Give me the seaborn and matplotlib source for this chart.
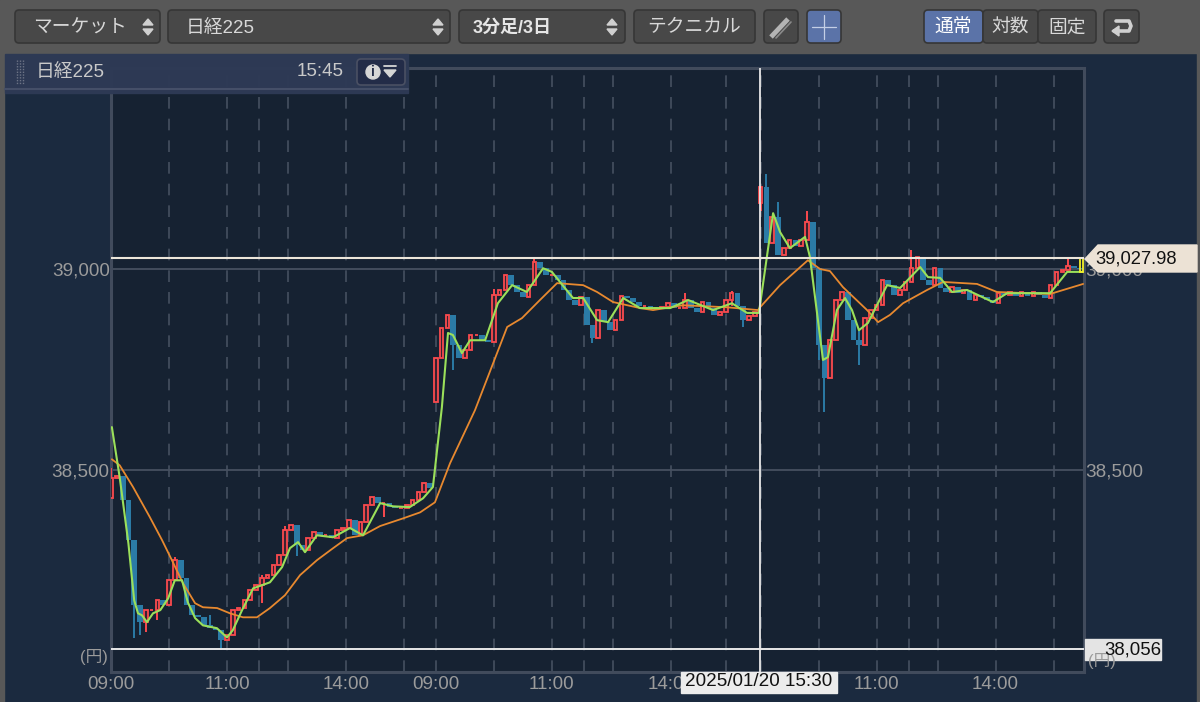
import numpy as np
import pandas as pd
import matplotlib
matplotlib.use("Agg")
import matplotlib.pyplot as plt
from matplotlib.patches import FancyBboxPatch, Rectangle, Polygon, Circle
import seaborn as sns

# 6 minute candles, 56 per session
closes_day1 = [38480, 38485, 38425, 38326, 38164, 38122, 38152, 38152, 38177, 38164, 38226, 38276, 38231, 38164,
               38139, 38134, 38114, 38107, 38102, 38077, 38090, 38152, 38157, 38177, 38201, 38214, 38231, 38239,
               38264, 38289, 38351, 38363, 38313, 38301, 38331, 38346, 38338, 38338, 38331, 38351, 38356, 38376,
               38338, 38371, 38413, 38433, 38418, 38418, 38408, 38405, 38405, 38413, 38425, 38445, 38468, 38455]
closes_day2 = [38779, 38853, 38886, 38811, 38779, 38798, 38836, 38836, 38823, 38818, 38935, 38948, 38985, 38960,
               38943, 38930, 38960, 39017, 39002, 38985, 38985, 38973, 38948, 38923, 38910, 38930, 38861, 38828,
               38898, 38868, 38848, 38873, 38933, 38928, 38918, 38908, 38908, 38903, 38903, 38905, 38915, 38903,
               38903, 38923, 38903, 38893, 38918, 38903, 38886, 38893, 38923, 38940, 38908, 38873, 38883, 38893]
closes_day3 = [39204, 39065, 39129, 39035, 39052, 39072, 39057, 39072, 39117, 39002, 38811, 38729, 38823, 38923,
               38943, 38873, 38823, 38811, 38878, 38898, 38910, 38973, 38960, 38935, 38948, 38968, 39002, 39030,
               38973, 38960, 39002, 38953, 38943, 38955, 38940, 38948, 38923, 38935, 38930, 38923, 38915, 38940,
               38935, 38943, 38933, 38943, 38933, 38943, 38935, 38928, 38960, 38993, 38998, 39007, 39002, 39000]
day_opens = [38430, 38669, 39164]

wick_pos = [0, 8, 10, 12, 16, 22, 34, 38, 52, 60, 64, 94, 118, 132, 146, 166, 198, 214, 218, 224, 226, 230, 240, 244, 246,
            258, 276, 330]
wick_high = [38505, 38164, 38122, 38152, 38177, 38284, 38139, 38102, 38239, 38361, 38363, 38418, 38811, 38950, 39030,
             38861, 38940, 38945, 38883, 39204, 39236, 39167, 39145, 39002, 38811, 38845, 39047, 39030]
wick_low = [38430, 38082, 38090, 38097, 38127, 38226, 38107, 38057, 38170, 38289, 38287, 38383, 38749, 38818, 38960,
            38815, 38903, 38908, 38856, 39144, 39065, 39035, 39072, 38774, 38644, 38761, 38968, 38998]

green_pos = [0.3, 3, 6, 8, 9.3, 10.7, 12.4, 14.5, 17, 19.7, 22, 24.5, 26.5, 29, 31.7, 36.5, 40, 42, 45.2, 49, 54.8, 59,
             61.7, 64.5, 66.9, 71, 76.6, 82.4, 86.9, 92.8, 97.2, 103, 107.6, 111, 114.1, 116.2, 117.9, 121, 123.8, 129,
             133.4, 138.3, 143.4, 149, 152, 159.3, 162.8, 167.6, 171.4, 176.6, 182.4, 192.8, 199, 207.6, 214.1, 219.3,
             223.4, 228.3, 230.7, 234.1, 239.3, 241, 245.5, 247.2, 250.3, 253.1, 255.5, 257.9, 261, 267.6, 272.1, 279,
             281.7, 285.9, 290, 295.2, 304.1, 309, 323.8, 329.7, 335.2]
green_val = [38607, 38482, 38318, 38176, 38144, 38139, 38122, 38144, 38152, 38181, 38226, 38226, 38171, 38132, 38114,
             38107, 38084, 38102, 38152, 38206, 38221, 38259, 38306, 38321, 38296, 38338, 38333, 38356, 38338, 38418,
             38410, 38408, 38430, 38458, 38657, 38841, 38836, 38791, 38823, 38823, 38915, 38960, 38943, 39002, 38993,
             38928, 38928, 38873, 38868, 38928, 38903, 38903, 38923, 38898, 38915, 38891, 38891, 39139, 39092, 39052,
             39080, 39030, 38774, 38781, 38898, 38928, 38898, 38848, 38866, 38960, 38953, 39005, 38980, 38978, 38943,
             38948, 38918, 38940, 38940, 38993, 38993]

orange_pos = [0.3, 3, 7.6, 13.4, 17.6, 21, 24.8, 29, 31.7, 36.6, 41, 45.5, 50.3, 54.8, 60, 65.2, 71, 76.6, 81.4, 86.9,
              92.8, 100.7, 106.6, 111.7, 116.9, 125.5, 136.6, 141.7, 147.9, 153.8, 162.8, 167.6, 173.1, 182.4, 186.9,
              197.2, 212.4, 223.1, 223.8, 230.7, 240.3, 244.5, 247.9, 252.4, 260.7, 264.5, 268.6, 273.1, 281.4, 286.9,
              298.6, 305.5, 323.8, 335.2]
orange_val = [38527, 38512, 38458, 38383, 38326, 38276, 38219, 38169, 38159, 38157, 38144, 38134, 38134, 38157, 38189,
              38239, 38276, 38306, 38331, 38338, 38361, 38380, 38395, 38420, 38517, 38649, 38856, 38878, 38923, 38965,
              38960, 38943, 38918, 38903, 38898, 38910, 38905, 38898, 38905, 38960, 39022, 39000, 38995, 38955, 38898,
              38868, 38886, 38915, 38948, 38968, 38963, 38943, 38938, 38963]

grid_pos = [20, 40, 51, 61, 81, 101, 112, 132, 152, 163, 173, 193, 212, 224, 244, 264, 275, 285, 305, 325]
x_tick_pos = [0, 40, 81, 112, 152, 193, 224, 264, 305]
x_tick_labels = ["09:00", "11:00", "14:00", "09:00", "11:00", "14:00", "09:00", "11:00", "14:00"]
y_ticks = [38500, 39000]
y_tick_labels = ["38,500", "39,000"]
cursor_pos = 223.7
price_now = 39027.98
price_low = 38056
last_open = 38993

sns.set_theme(style="dark")
plt.rcParams['font.family'] = ['Liberation Sans', 'Noto Sans CJK JP', 'DejaVu Sans']

fig = plt.figure(figsize=(12, 7.02), dpi=100, facecolor="#1b2a3f")
ax = fig.add_axes([111 / 1200, 1 - 672 / 702, (1084 - 111) / 1200, (672 - 68) / 702], facecolor="#162232")

closes = np.array(closes_day1 + closes_day2 + closes_day3)
opens = np.r_[closes[0], closes[:-1]]
opens[[0, 56, 112]] = day_opens
df = pd.DataFrame({"pos": np.arange(len(closes)) * 2, "open": opens, "close": closes})
df["up"] = df["close"] >= df["open"]

red = "#fb4a4e"
blue = "#2b7ba6"
for _, row in df[~df["up"]].iterrows():
    ax.bar(row["pos"], row["open"] - row["close"], bottom=row["close"], width=2.0, color=blue, linewidth=0, zorder=3)
for _, row in df[df["up"]].iterrows():
    ax.bar(row["pos"], row["close"] - row["open"], bottom=row["open"], width=1.2, facecolor="#3a2230",
           edgecolor=red, linewidth=1.3, zorder=4)
wick_up = df.set_index("pos").loc[wick_pos, "up"].values
ax.vlines(wick_pos, wick_low, wick_high, colors=[red if u else blue for u in wick_up], linewidth=1.4, zorder=3)

sns.lineplot(x=orange_pos, y=orange_val, color="#e8892f", linewidth=1.3, sort=False, estimator=None, ax=ax, zorder=5)
sns.lineplot(x=green_pos, y=green_val, color="#9be05a", linewidth=1.5, sort=False, estimator=None, ax=ax, zorder=6)

ax.bar(334.6, price_now - last_open, bottom=last_open, width=1.0, facecolor="none", edgecolor="#f2ee2a",
       linewidth=1.3, zorder=7, clip_on=False)

ax.set_xlim(0, 335.5)
ax.set_ylim(37998, 39500)
ax.set_xlabel("")
ax.set_ylabel("")
ax.set_xticks(x_tick_pos)
ax.set_xticklabels(x_tick_labels)
ax.set_yticks(y_ticks)
ax.set_yticklabels(y_tick_labels)
ax.tick_params(axis="both", length=0, labelsize=13.6, labelcolor="#9b9b9b", pad=1, labelright=True)
ax.tick_params(axis="x", pad=3)
ax.grid(False)
for v in y_ticks:
    ax.axhline(v, color="#465060", linewidth=1.3, zorder=1)
for p in grid_pos:
    ax.axvline(p, color="#465060", linewidth=1.2, linestyle=(0, (7, 6)), zorder=1)
for s in ax.spines.values():
    s.set_visible(True)
    s.set_color("#414b5c")
    s.set_linewidth(2.2)

# crosshair and the high / low lines
ax.axvline(cursor_pos, color="#e8e8e8", linewidth=1.3, zorder=8)
ax.axhline(price_now, color="#ece6da", linewidth=1.5, zorder=8)
ax.axhline(price_low, color="#e8e8e8", linewidth=1.4, zorder=8)

# everything around the chart, drawn in pixel coords
ui = fig.add_axes([0, 0, 1, 1], zorder=5)
ui.set_xlim(0, 1200)
ui.set_ylim(702, 0)
ui.axis("off")
ui.patch.set_visible(False)


def button(x0, x1, color="#484848", y0=10, y1=43):
    ui.add_patch(FancyBboxPatch((x0, y0), x1 - x0, y1 - y0, boxstyle="round,pad=0,rounding_size=4",
                                facecolor=color, edgecolor="#363636", linewidth=1.2))


def updown(x, y=27):
    ui.add_patch(Polygon([(x - 5, y - 2), (x + 5, y - 2), (x, y - 8)], color="#d0d0d0"))
    ui.add_patch(Polygon([(x - 5, y + 2), (x + 5, y + 2), (x, y + 8)], color="#d0d0d0"))


ui.add_patch(Rectangle((0, 0), 1200, 53, color="#585858"))
ui.add_patch(Rectangle((0, 0), 4, 702, color="#585858"))
ui.add_patch(Rectangle((1197, 0), 3, 702, color="#585858"))

button(15, 160)
button(168, 450)
button(459, 625)
button(634, 755)
button(764, 798)
button(807, 841, color="#5b73a8")
button(924, 983, color="#5b73a8")
button(983, 1038)
button(1038, 1096)
button(1104, 1139)
updown(148)
updown(438)
updown(612)

ui.text(33, 28, "マーケット", color="#d8d8d8", fontsize=13.5, va="center")
ui.text(186, 28, "日経225", color="#d8d8d8", fontsize=13.5, va="center")
ui.text(473, 28, "3分足/3日", color="#e6e6e6", fontsize=13, va="center", fontweight="bold")
ui.text(694, 28, "テクニカル", color="#d8d8d8", fontsize=13.5, va="center", ha="center")
ui.text(953, 28, "通常", color="#ffffff", fontsize=13.5, va="center", ha="center")
ui.text(1010, 28, "対数", color="#d8d8d8", fontsize=13.5, va="center", ha="center")
ui.text(1067, 28, "固定", color="#d8d8d8", fontsize=13.5, va="center", ha="center")

# pencil, plus and return icons
ui.plot([771, 788], [37, 19], color="#b4b4b4", linewidth=3.5, solid_capstyle="butt")
ui.plot([776, 791], [38, 22], color="#8a8a8a", linewidth=1.2)
ui.plot([824, 824], [15, 39], color="#c4cfe6", linewidth=0.9)
ui.plot([812, 836], [27, 27], color="#c4cfe6", linewidth=0.9)
ui.plot([1116, 1129, 1131, 1129, 1114], [21, 21, 26, 31, 31], color="#d0d0d0", linewidth=2.6)
ui.add_patch(Polygon([(1112, 31), (1119, 26), (1119, 36)], color="#d0d0d0"))

# title panel over the top left of the chart
ui.add_patch(Rectangle((5, 54), 403, 39, color="#2e3a55", alpha=0.98))
ui.plot([5, 408], [89, 89], color="#454f68", linewidth=1.5)
for gx in (17, 20, 23):
    ui.plot([gx, gx], [60, 84], color="#6d7486", linewidth=1, linestyle=(0, (1, 1)))
ui.text(36, 73, "日経225", color="#c9c9c9", fontsize=13.5, va="center")
ui.text(297, 72, "15:45", color="#c9c9c9", fontsize=13.5, va="center")
ui.add_patch(FancyBboxPatch((357, 59), 48, 26, boxstyle="round,pad=0,rounding_size=4", facecolor="#232c48",
                            edgecolor="#4a5063", linewidth=1.2))
ui.add_patch(Circle((373, 72), 7, color="#d6d6d6"))
ui.text(373, 72, "i", color="#232c48", fontsize=10, fontweight="bold", ha="center", va="center")
ui.add_patch(Polygon([(384, 70), (396, 70), (390, 77)], color="#d6d6d6"))
ui.plot([384, 396], [66, 66], color="#d6d6d6", linewidth=1.3)

ui.text(108, 657, "(円)", color="#9b9b9b", fontsize=12, ha="right", va="center")
ui.text(1088, 661, "(円)", color="#9b9b9b", fontsize=12, ha="left", va="center")

# price tag, low label, date label
ui.add_patch(Polygon([(1085, 259), (1098, 245), (1197, 245), (1197, 272), (1098, 272)], color="#ece2d5"))
ui.text(1095, 259, f"{price_now:,.2f}", color="#111111", fontsize=13.2, va="center")
ui.add_patch(Rectangle((1085, 639), 76, 21, color="#e4e4e4"))
ui.text(1161, 650, f"{price_low:,}", color="#111111", fontsize=13.4, va="center", ha="right")
ui.add_patch(Rectangle((681, 672), 156, 21, color="#ececec"))
ui.text(759, 682, "2025/01/20 15:30", color="#111111", fontsize=13.6, va="center", ha="center")

fig.savefig("out.png", dpi=100)
